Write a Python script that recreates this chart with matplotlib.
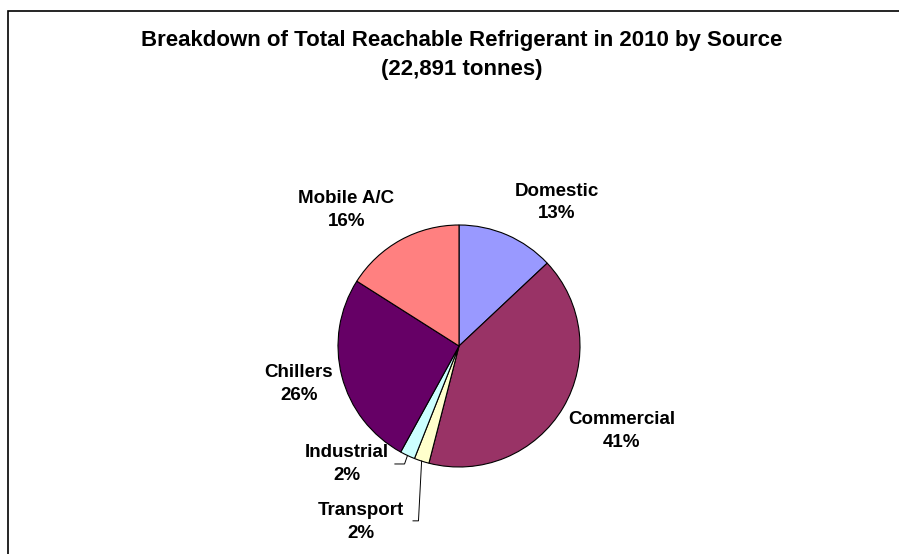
import matplotlib.pyplot as plt
import numpy as np

# Reachable refrigerant by source, 2010 (share of 22,891 tonnes)
sources = ['Domestic', 'Commercial', 'Transport', 'Industrial', 'Chillers', 'Mobile A/C']
shares = [13, 41, 2, 2, 26, 16]
colours = ['#9999FF', '#993366', '#FFFFCC', '#CCFFFF', '#660066', '#FF8080']
total_tonnes = 22891

# label centres in pie-radius units
label_pos = {
    'Domestic': (0.81, 1.186),
    'Commercial': (1.343, -0.70),
    'Transport': (-0.81, -1.455),
    'Industrial': (-0.93, -0.975),
    'Chillers': (-1.322, -0.314),
    'Mobile A/C': (-0.93, 1.124),
}
# elbow points of the leader lines for the thin slices
leader_elbow = {
    'Industrial': [(-0.45, -0.975), (-0.53, -0.975)],
    'Transport': [(-0.335, -1.445), (-0.38, -1.445)],
}

plt.rcParams['font.family'] = ['Liberation Sans', 'DejaVu Sans']
plt.rcParams['font.weight'] = 'bold'

fig = plt.figure(figsize=(8.99, 5.54), dpi=100)

# frame around the chart area
fig.add_artist(plt.Rectangle((8 / 899, -0.1), 1.0, (554 - 11) / 554 + 0.1,
                             transform=fig.transFigure, fill=False,
                             edgecolor='black', linewidth=1.2))

fig.text(462 / 899, 1 - 55 / 554,
         'Breakdown of Total Reachable Refrigerant in 2010 by Source\n'
         '({:,} tonnes)'.format(total_tonnes),
         ha='center', va='center', fontsize=16, fontweight='bold',
         linespacing=1.5)

ax = fig.add_axes([338 / 899, 87 / 554, 242 / 899, 242 / 554])
wedges, _ = ax.pie(shares, colors=colours, startangle=90, counterclock=False,
                   radius=1.0,
                   wedgeprops=dict(edgecolor='black', linewidth=0.8))
ax.set_xlim(-1, 1)
ax.set_ylim(-1, 1)
ax.axis('off')

for w, name, val in zip(wedges, sources, shares):
    x, y = label_pos[name]
    ax.text(x, y, '%s\n%d%%' % (name, val), ha='center', va='center',
            fontsize=13.5, fontweight='bold', linespacing=1.45, clip_on=False)
    if name in leader_elbow:
        mid = np.deg2rad((w.theta1 + w.theta2) / 2)
        pts = [(np.cos(mid), np.sin(mid))] + leader_elbow[name]
        xs, ys = zip(*pts)
        ax.plot(xs, ys, color='black', linewidth=0.7, clip_on=False)

fig.savefig('out.png', dpi=100)
